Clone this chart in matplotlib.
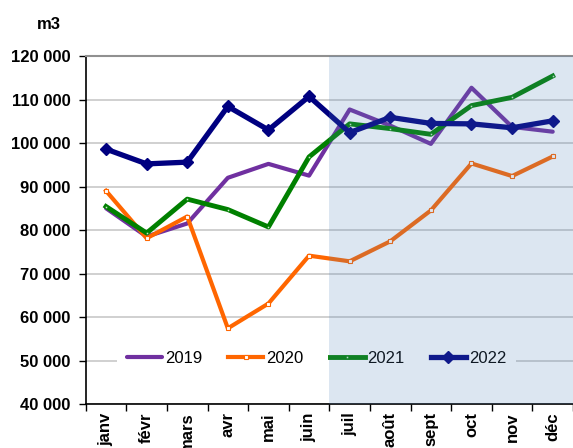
import matplotlib
matplotlib.use("Agg")
import matplotlib.pyplot as plt
from matplotlib.ticker import FuncFormatter, MultipleLocator, FixedLocator

plt.rcParams['font.family'] = ['Liberation Sans', 'DejaVu Sans']

months = ['janv', 'févr', 'mars', 'avr', 'mai', 'juin',
          'juil', 'août', 'sept', 'oct', 'nov', 'déc']

v2019 = [85000, 78500, 81500, 92000, 95200, 92500,
         107700, 104000, 99800, 112700, 103700, 102600]
v2020 = [89000, 78100, 83100, 57400, 63100, 74100,
         72800, 77400, 84500, 95300, 92400, 96900]
v2021 = [85400, 79300, 87100, 84700, 80700, 96800,
         104400, 103300, 102000, 108600, 110500, 115400]
v2022 = [98600, 95200, 95600, 108400, 103000, 110700,
         102400, 105900, 104500, 104400, 103500, 105100]

fig = plt.figure(figsize=(5.73, 4.48), dpi=100)
ax = fig.add_axes([0.1496, 0.0982, 0.8504, 0.7768])

x = range(len(months))
ax.plot(x, v2019, color='#7030a0', lw=3, label='2019', solid_capstyle='round', zorder=3)
ax.plot(x, v2020, color='#ff6600', lw=3, marker='s', ms=3, mfc='white', mec='#ff6600',
        mew=0.8, label='2020', zorder=3)
ax.plot(x, v2021, color='#008000', lw=3.5, marker='o', ms=1.5, mfc='#c8e8c8', mec='#008000',
        mew=0.3, label='2021', zorder=3)
ax.plot(x, v2022, color='#000080', lw=3.8, marker='D', ms=6, mfc='#000080', mec='#000080',
        label='2022', zorder=3)

# second half of the year shaded on top of everything
ax.axvspan(5.5, 11.5, color='#5082b9', alpha=0.2, lw=0, zorder=6)

ax.set_xlim(-0.5, 11.5)
ax.set_ylim(40000, 120000)

ax.yaxis.set_major_locator(MultipleLocator(10000))
ax.yaxis.set_major_formatter(FuncFormatter(lambda v, p: f"{int(v):,}".replace(',', ' ')))
ax.grid(axis='y', color='#c8c8c8', lw=1.2, zorder=0)

ax.set_xticks(list(x))
ax.set_xticklabels(months, rotation=90, va='top', ha='center')
ax.xaxis.set_minor_locator(FixedLocator([i - 0.5 for i in range(13)]))
ax.tick_params(axis='x', which='major', length=0, pad=6)
ax.tick_params(axis='x', which='minor', length=5, width=1, direction='out')
ax.tick_params(axis='y', length=5, width=1, direction='out', pad=6)
for lab in ax.get_xticklabels() + ax.get_yticklabels():
    lab.set_fontsize(12)
    lab.set_fontweight('bold')

for s in ['left', 'bottom']:
    ax.spines[s].set_color('black')
    ax.spines[s].set_linewidth(1.2)
ax.spines['top'].set_color('#909090')
ax.spines['top'].set_linewidth(1.5)
ax.spines['right'].set_visible(False)

leg = ax.legend(loc='center', bbox_to_anchor=(0.474, 0.132), ncol=4, fontsize=12,
                frameon=True, facecolor='white', edgecolor='none', framealpha=1,
                fancybox=False, handlelength=2.1, handletextpad=0.18,
                columnspacing=1.55, borderpad=0.6, borderaxespad=0)
leg.set_zorder(5)

fig.text(0.065, 0.945, 'm3', fontsize=12, fontweight='bold', ha='left', va='center')

fig.savefig('out.png', dpi=100)
